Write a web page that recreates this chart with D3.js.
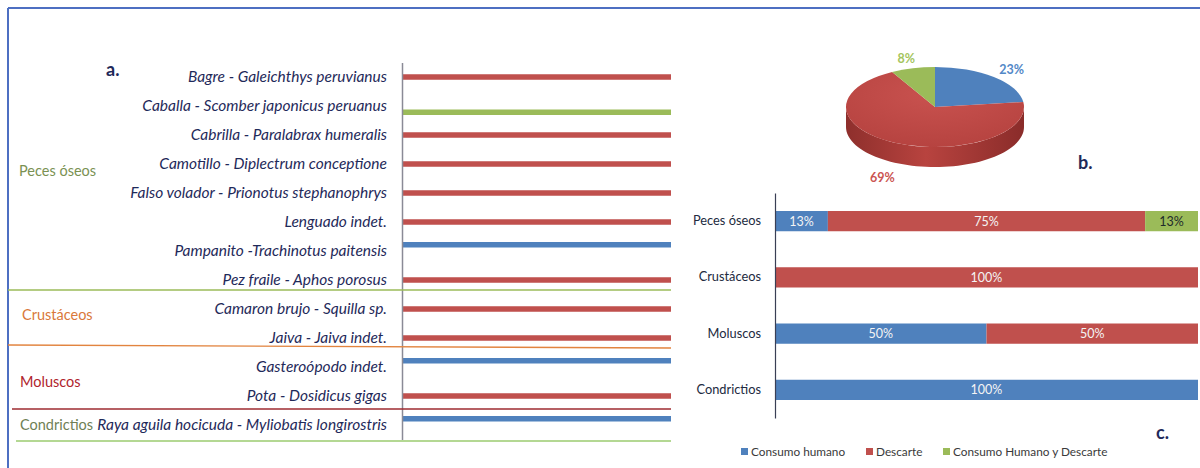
<!DOCTYPE html>
<html><head><meta charset="utf-8">
<script src="https://cdn.jsdelivr.net/npm/d3@7"></script>
<style>html,body{margin:0;padding:0;background:#fff;}svg{display:block;font-family:Lato,"Open Sans",sans-serif;}</style>
</head><body>
<svg id="c" width="1200" height="468"></svg>
<script>
// ---------- DATA ----------
const species = [
  "Bagre - Galeichthys peruvianus",
  "Caballa - Scomber japonicus peruanus",
  "Cabrilla - Paralabrax humeralis",
  "Camotillo - Diplectrum conceptione",
  "Falso volador - Prionotus stephanophrys",
  "Lenguado indet.",
  "Pampanito -Trachinotus paitensis",
  "Pez fraile - Aphos porosus",
  "Camaron brujo - Squilla sp.",
  "Jaiva - Jaiva indet.",
  "Gasteroópodo indet.",
  "Pota - Dosidicus gigas",
  "Raya aguila hocicuda - Myliobatis longirostris"
];
const seriesNames = ["Consumo humano", "Descarte", "Consumo Humano y Descarte"];
const spConsumo  = [0,0,0,0,0,0,1,0,0,0,1,0,1];
const spDescarte = [1,0,1,1,1,1,0,1,1,1,0,1,0];
const spAmbos    = [0,1,0,0,0,0,0,0,0,0,0,0,0];
const groups      = ["Peces óseos", "Crustáceos", "Moluscos", "Condrictios"];
const groupCounts = [8, 2, 2, 1];

const pieLabels = ["Consumo humano", "Descarte", "Consumo Humano y Descarte"];
const pieValues = [23, 69, 8];

const grpConsumo  = [12.5, 0, 50, 100];
const grpDescarte = [75, 100, 50, 0];
const grpAmbos    = [12.5, 0, 0, 0];

// ---------- STYLE ----------
const colors = {"Consumo humano":"#4F81BD","Descarte":"#C0504D","Consumo Humano y Descarte":"#9BBB59"};
const groupColors = ["#7A9152","#D9783A","#B0242C","#6F7F55"];
const lineColors  = ["#9BBB59","#E2843F","#9E2B30","#9BCB6F"];
const navy = "#1F2A5A";

const svg = d3.select("#c");

// frame
svg.append("line").attr("x1",8).attr("x2",1200).attr("y1",8).attr("y2",8).attr("stroke","#4D6FC2").attr("stroke-width",2);
svg.append("line").attr("x1",8).attr("x2",8).attr("y1",8).attr("y2",468).attr("stroke","#4D6FC2").attr("stroke-width",2);

// ================= CHART A =================
const ax = d3.scaleLinear().domain([0,1]).range([402,671]);
const ay = d3.scaleBand().domain(species).range([62.5,439.5]);
const sub = d3.scaleBand().domain(seriesNames)
  .range([ay.bandwidth()/2 - 9.75, ay.bandwidth()/2 + 9.75]).padding(0.12);
const spSeries = {"Consumo humano":spConsumo,"Descarte":spDescarte,"Consumo Humano y Descarte":spAmbos};

const gA = svg.append("g");
seriesNames.forEach(s=>{
  gA.selectAll(null).data(species.map((sp,i)=>({sp,v:spSeries[s][i]})).filter(d=>d.v>0))
    .enter().append("rect")
    .attr("x",ax(0)).attr("width",d=>ax(d.v)-ax(0))
    .attr("y",d=>ay(d.sp)+sub(s)).attr("height",sub.bandwidth())
    .attr("fill",colors[s]);
});
// axis (no ticks)
const yAxisA = d3.axisLeft(ay).tickSize(0).tickPadding(15);
const gya = gA.append("g").attr("transform",`translate(${ax(0)},0)`).call(yAxisA);
gya.select(".domain").attr("stroke","#8A8A96").attr("stroke-width",1.5);
gya.selectAll("text").attr("font-size",15.5).attr("font-style","italic").attr("fill",navy)
  .attr("font-family","Lato,sans-serif");

// group separators & labels
let idx = 0; let prevY = ay.range()[0];
const labelX = [19,22,20,20];
const sepShift = [-4.5,-7.5,-1.5,1.5];
const labShift = [-5,-3,5,0];
groups.forEach((g,gi)=>{
  idx += groupCounts[gi];
  const boundary = (idx < species.length ? ay(species[idx]) : ay.range()[1]) + sepShift[gi];
  const x0 = [8,8,12,16][gi];
  gA.append("line").attr("x1",x0).attr("x2",ax(1)).attr("y1",boundary).attr("y2",gi===1?boundary+3:boundary)
    .attr("stroke",lineColors[gi]).attr("stroke-width",1.3);
  gA.append("text").attr("x",labelX[gi]).attr("y",(prevY+boundary)/2+labShift[gi]).attr("dy","0.35em")
    .attr("font-size",14.5).attr("fill",groupColors[gi]).text(g);
  prevY = boundary;
});
gA.append("text").attr("x",106).attr("y",76).attr("font-size",18).attr("font-weight","bold").attr("fill",navy).text("a.");

// ================= CHART B (3D pie) =================
const cx=935, cy=107, rx=89, ry=40, depth=20;
const pie = d3.pie().sort(null).value(d=>d)(pieValues);
const gB = svg.append("g");
const defs = svg.append("defs");
const sideGrad = defs.append("linearGradient").attr("id","side").attr("x1",0).attr("x2",1).attr("y1",0).attr("y2",0);
sideGrad.append("stop").attr("offset","0%").attr("stop-color","#8E2F2C");
sideGrad.append("stop").attr("offset","45%").attr("stop-color","#B8433F");
sideGrad.append("stop").attr("offset","100%").attr("stop-color","#8A2C2A");
const sideColors = ["#3A6396","#9B3A37","#7A9546"];
const ex = a => cx + rx*Math.sin(a), ey = a => cy - ry*Math.cos(a);
// side walls (front half: angles PI/2 .. 3PI/2)
pie.forEach((p,i)=>{
  const a1 = Math.max(p.startAngle, Math.PI/2), a2 = Math.min(p.endAngle, 3*Math.PI/2);
  if (a2 <= a1) return;
  const n = 60, pts = d3.range(n+1).map(k=>a1+(a2-a1)*k/n);
  const path = d3.path();
  path.moveTo(ex(pts[0]),ey(pts[0]));
  pts.forEach(a=>path.lineTo(ex(a),ey(a)));
  pts.slice().reverse().forEach(a=>path.lineTo(ex(a),ey(a)+depth));
  path.closePath();
  gB.append("path").attr("d",path.toString()).attr("fill",i===1?"url(#side)":sideColors[i]);
});
// top faces
const topGrad = defs.append("radialGradient").attr("id","topRed").attr("cx","50%").attr("cy","30%").attr("r","75%");
topGrad.append("stop").attr("offset","0%").attr("stop-color","#C9524F");
topGrad.append("stop").attr("offset","100%").attr("stop-color","#B5423F");
const arc = d3.arc().innerRadius(0).outerRadius(rx);
const gTop = gB.append("g").attr("transform",`translate(${cx},${cy}) scale(1,${ry/rx})`);
gTop.selectAll("path").data(pie).enter().append("path").attr("d",arc)
  .attr("fill",(d,i)=>i===1?"url(#topRed)":colors[pieLabels[i]]);
// labels
pie.forEach((p,i)=>{
  const m = (p.startAngle+p.endAngle)/2;
  const lx = cx + (rx+27)*Math.sin(m);
  let ly = cy - (ry+10)*Math.cos(m);
  if (Math.cos(m) < 0) ly += depth + 6;
  gB.append("text").attr("x",lx).attr("y",ly).attr("dy","0.35em").attr("text-anchor","middle")
    .attr("font-size",12.5).attr("font-weight","bold").attr("fill",d3.color(colors[pieLabels[i]]).brighter(0.15))
    .text(p.data+"%");
});
gB.append("text").attr("x",1078).attr("y",169).attr("font-size",18).attr("font-weight","bold").attr("fill",navy).text("b.");

// ================= CHART C =================
const cxs = d3.scaleLinear().domain([0,100]).range([775,1198]);
const cys = d3.scaleBand().domain(groups).range([193,418]).paddingInner(0.64).paddingOuter(0.32);
const grpSeries = {"Consumo humano":grpConsumo,"Descarte":grpDescarte,"Consumo Humano y Descarte":grpAmbos};
const stackData = groups.map((g,i)=>{const o={g}; seriesNames.forEach(s=>o[s]=grpSeries[s][i]); return o;});
const stacked = d3.stack().keys(seriesNames)(stackData);
const gC = svg.append("g");
stacked.forEach(layer=>{
  const s = layer.key;
  const sel = gC.selectAll(null).data(layer.filter(d=>d[1]-d[0]>0)).enter();
  sel.append("rect").attr("x",d=>cxs(d[0])).attr("width",d=>cxs(d[1])-cxs(d[0]))
    .attr("y",d=>cys(d.data.g)).attr("height",cys.bandwidth()).attr("fill",colors[s]);
  sel.append("text").attr("x",d=>(cxs(d[0])+cxs(d[1]))/2).attr("y",d=>cys(d.data.g)+cys.bandwidth()/2)
    .attr("dy","0.36em").attr("text-anchor","middle").attr("font-size",12.5)
    .attr("fill",s==="Consumo Humano y Descarte"?"#1E2A2A":"#F4F4F4")
    .text(d=>Math.round(d[1]-d[0])+"%");
});
const gyc = gC.append("g").attr("transform",`translate(${cxs(0)},0)`).call(d3.axisLeft(cys).tickSize(0).tickPadding(14));
gyc.select(".domain").attr("stroke","#3A3F55").attr("stroke-width",1.2);
gyc.selectAll("text").attr("font-size",12.8).attr("fill","#222A40").attr("font-family","Lato,sans-serif");

// legend
const legX = [741, 866, 943];
seriesNames.forEach((s,i)=>{
  gC.append("rect").attr("x",legX[i]).attr("y",448).attr("width",7).attr("height",7).attr("fill",colors[s]);
  gC.append("text").attr("x",legX[i]+10).attr("y",452).attr("dy","0.35em").attr("font-size",11.8).attr("fill","#3A3A3A").text(s);
});
gC.append("text").attr("x",1156).attr("y",439).attr("font-size",18).attr("font-weight","bold").attr("fill",navy).text("c.");
</script>
</body></html>
